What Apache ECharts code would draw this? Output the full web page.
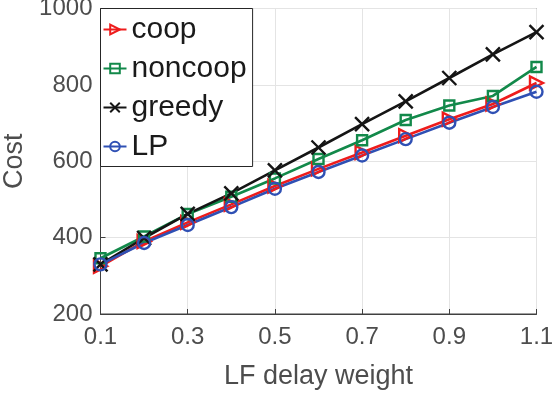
<!DOCTYPE html>
<html>
<head>
<meta charset="utf-8">
<script src="https://cdn.jsdelivr.net/npm/echarts@6/dist/echarts.min.js"></script>
<style>
  html, body { margin: 0; padding: 0; background: #fff; }
  #chart { width: 552px; height: 394px; }
</style>
</head>
<body>
<div id="chart"></div>
<script>
// LF delay weight values (x axis categories)
const weights = ['0.1', '0.2', '0.3', '0.4', '0.5', '0.6', '0.7', '0.8', '0.9', '1.0', '1.1'];

// Cost per strategy
const coop    = [325, 390, 440, 487, 535, 580, 623, 667, 710, 750, 805];
const noncoop = [346, 403, 462, 507, 555, 606, 655, 708, 746, 771, 847];
const greedy  = [330, 399, 462, 516, 576, 636, 697, 757, 818, 880, 938];
const lp      = [330, 386, 433, 480, 528, 572, 615, 658, 701, 742, 782];

const FONT = '"Liberation Sans", Arial, Helvetica, sans-serif';
const AXIS_COLOR = '#404040';
const TEXT_COLOR = '#4d4d4d';

function makeSeries(name, data, color, symbol, size, rotate) {
  return {
    name: name,
    type: 'line',
    data: data,
    symbol: symbol,
    symbolSize: size,
    symbolRotate: rotate || 0,
    showAllSymbol: true,
    lineStyle: { color: color, width: 2.6 },
    itemStyle: { color: 'rgba(255,255,255,0)', borderColor: color, borderWidth: 2.4 },
    emphasis: { disabled: true },
    animation: false
  };
}

const chart = echarts.init(document.getElementById('chart'), null, { renderer: 'canvas' });

chart.setOption({
  backgroundColor: '#ffffff',
  animation: false,
  textStyle: { fontFamily: FONT },
  grid: {
    left: 100.5, right: 15.5, top: 8.5, bottom: 80,
    outerBoundsMode: 'none',
    containLabel: false,
    show: true, borderColor: AXIS_COLOR, borderWidth: 1, backgroundColor: 'transparent'
  },
  legend: {
    orient: 'vertical',
    left: 100.5, top: 8.5,
    padding: [6, 6, 5, 2],
    itemGap: 9,
    itemWidth: 23, itemHeight: 12,
    backgroundColor: '#ffffff',
    borderColor: '#262626', borderWidth: 1,
    textStyle: { fontSize: 30, color: '#1a1a1a', fontFamily: FONT },
    data: ['coop', 'noncoop', 'greedy', 'LP']
  },
  xAxis: {
    type: 'category',
    data: weights,
    boundaryGap: false,
    name: 'LF delay weight',
    nameLocation: 'middle',
    nameGap: 49,
    nameTextStyle: { fontSize: 27, color: TEXT_COLOR, fontFamily: FONT },
    axisLine: { show: true, lineStyle: { color: AXIS_COLOR, width: 1 } },
    axisTick: { show: true, inside: true, length: 5, interval: 1, lineStyle: { color: AXIS_COLOR } },
    axisLabel: { interval: 1, fontSize: 24, color: TEXT_COLOR, margin: 11, fontFamily: FONT },
    splitLine: { show: true, interval: 1, lineStyle: { color: '#e4e4e4', width: 1 } }
  },
  yAxis: {
    type: 'value',
    min: 200, max: 1000, interval: 200,
    name: 'Cost',
    nameLocation: 'middle',
    nameGap: 68,
    nameTextStyle: { fontSize: 27, color: TEXT_COLOR, fontFamily: FONT },
    axisLine: { show: true, lineStyle: { color: AXIS_COLOR, width: 1 } },
    axisTick: { show: true, inside: true, length: 5, lineStyle: { color: AXIS_COLOR } },
    axisLabel: { fontSize: 24, color: TEXT_COLOR, margin: 8, fontFamily: FONT,
                 formatter: function (v) { return String(v); } },
    splitLine: { show: true, lineStyle: { color: '#e4e4e4', width: 1 } }
  },
  series: [
    makeSeries('coop', coop, '#ee1c1c', 'triangle', 13, -90),
    makeSeries('noncoop', noncoop, '#12894a', 'rect', 10),
    makeSeries('greedy', greedy, '#151515', 'path://M0,0L10,10M10,0L0,10', 14),
    makeSeries('LP', lp, '#2f50b4', 'circle', 12)
  ]
});
</script>
</body>
</html>
